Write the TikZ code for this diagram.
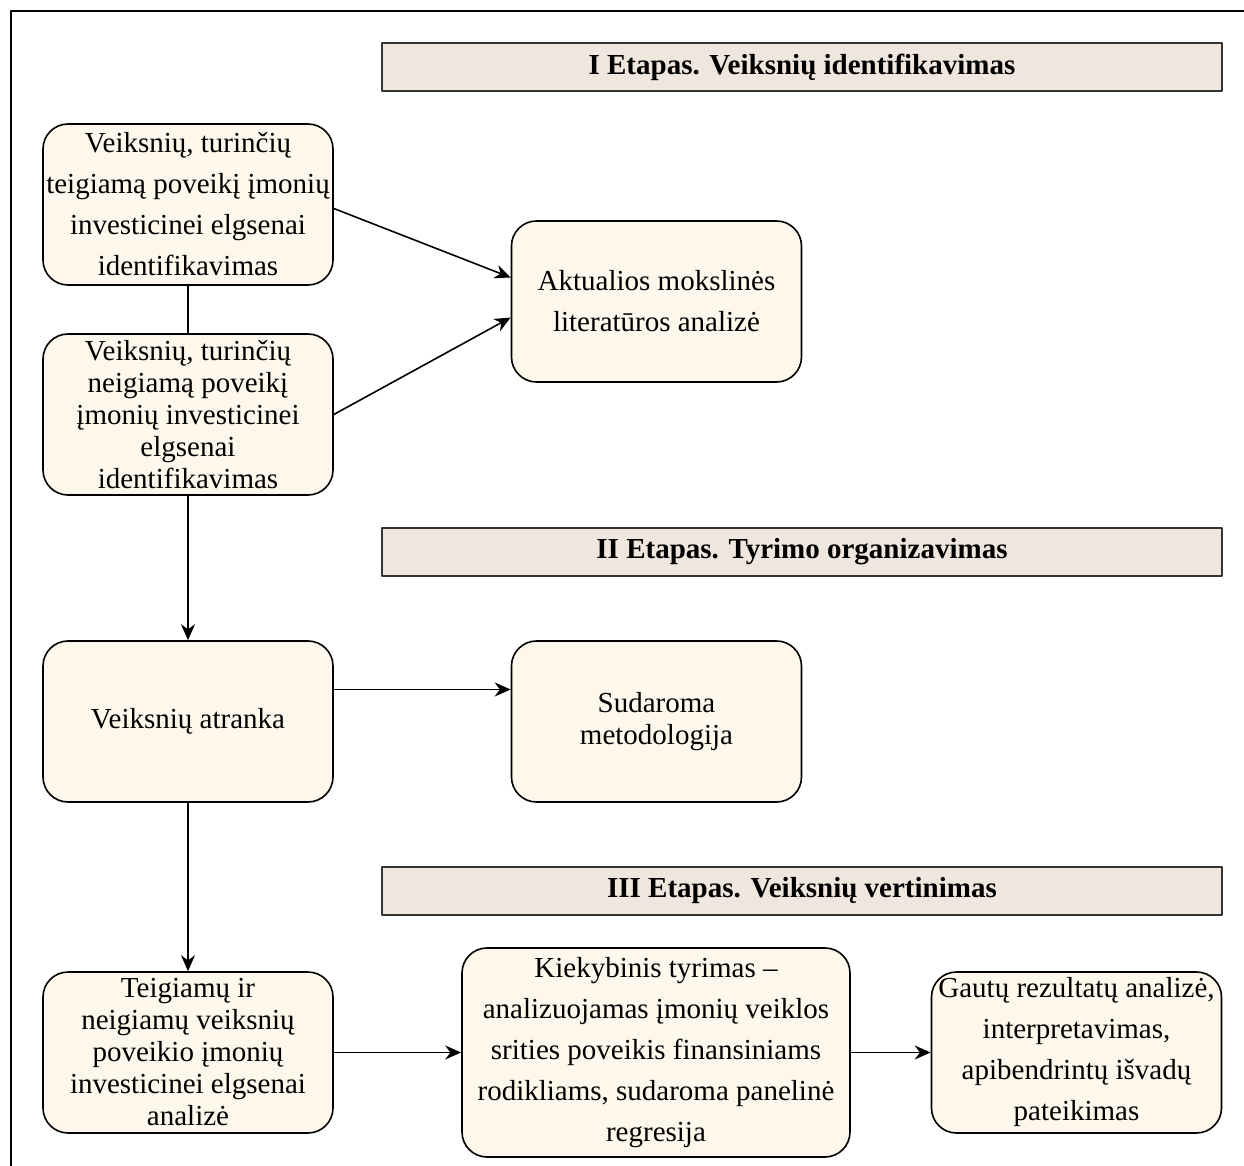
\documentclass[tikz,border=0pt]{standalone}
\usepackage{fontspec}
\setmainfont{Liberation Serif}
\usepackage{tikz}
\usetikzlibrary{positioning}
\usetikzlibrary{arrows.meta}
\definecolor{boxfill}{HTML}{FDF7EC}
\definecolor{etapfill}{HTML}{EFE7DE}
\definecolor{etapline}{HTML}{333333}
\tikzset{
  langelis/.style={draw=black,line width=0.8pt,fill=boxfill,rounded corners=12.5pt,
    minimum width=145pt,minimum height=80.5pt,inner sep=0.5pt,align=center,
    font=\fontsize{14.5}{20.5}\selectfont},
  tankus/.style={font=\fontsize{14.5}{16}\selectfont},
  etapas/.style={draw=etapline,line width=1pt,fill=etapfill,minimum width=420pt,
    minimum height=24pt,inner sep=0pt,font=\fontsize{14.5}{16}\selectfont\bfseries},
  rodykle/.style={-{Stealth[length=8pt,width=7pt]},line width=0.8pt}
}
\begin{document}
\begin{tikzpicture}[line cap=round,line join=round,x=0.5pt,y=-0.5pt]
\useasboundingbox (0,0) rectangle (1244,1166);
\draw[line width=0.9pt] (11,1166) -- (11,11) -- (1244,11);
% etapai
\node[etapas] (etapasI) at (802,67) {I Etapas. Veiksnių identifikavimas};
\node[etapas] (etapasII) at (802,552) {II Etapas. Tyrimo organizavimas};
\node[etapas] (etapasIII) at (802,891) {III Etapas. Veiksnių vertinimas};
% langeliai
\node[langelis] (teig) at (188,204.5) {Veiksnių, turinčių\\teigiamą poveikį įmonių\\investicinei elgsenai\\identifikavimas};
\node[langelis,tankus] (neig) at (188,414.5) {Veiksnių, turinčių\\neigiamą poveikį\\įmonių investicinei\\elgsenai\\identifikavimas};
\node[langelis] (lit) at (656.5,301.5) {Aktualios mokslinės\\literatūros analizė};
\node[langelis] (atr) at (188,721.5) {Veiksnių atranka};
\node[langelis,tankus] (met) at (656.5,721.5) {Sudaroma\\metodologija};
\node[langelis,tankus] (anal) at (188,1052.5) {Teigiamų ir\\neigiamų veiksnių\\poveikio įmonių\\investicinei elgsenai\\analizė};
\node[langelis,minimum width=194pt,minimum height=104.5pt] (kiek) at (656,1052.5) {Kiekybinis tyrimas –\\analizuojamas įmonių veiklos\\srities poveikis finansiniams\\rodikliams, sudaroma panelinė\\regresija};
\node[langelis] (gaut) at (1076.5,1052.5) {Gautų rezultatų analizė,\\interpretavimas,\\apibendrintų išvadų\\pateikimas};
% jungtys
\draw[line width=0.8pt] (teig.south) -- (neig.north);
\draw[rodykle] ([yshift=-2pt]teig.east) -- ([yshift=12pt]lit.west);
\draw[rodykle] (neig.east) -- ([yshift=-8pt]lit.west);
\draw[rodykle] (neig.south) -- (atr.north);
\draw[rodykle] ([yshift=16pt]atr.east) -- ([yshift=16pt]met.west);
\draw[rodykle] (atr.south) -- (anal.north);
\draw[rodykle] (anal.east) -- (kiek.west);
\draw[rodykle] (kiek.east) -- (gaut.west);
\end{tikzpicture}
\end{document}
